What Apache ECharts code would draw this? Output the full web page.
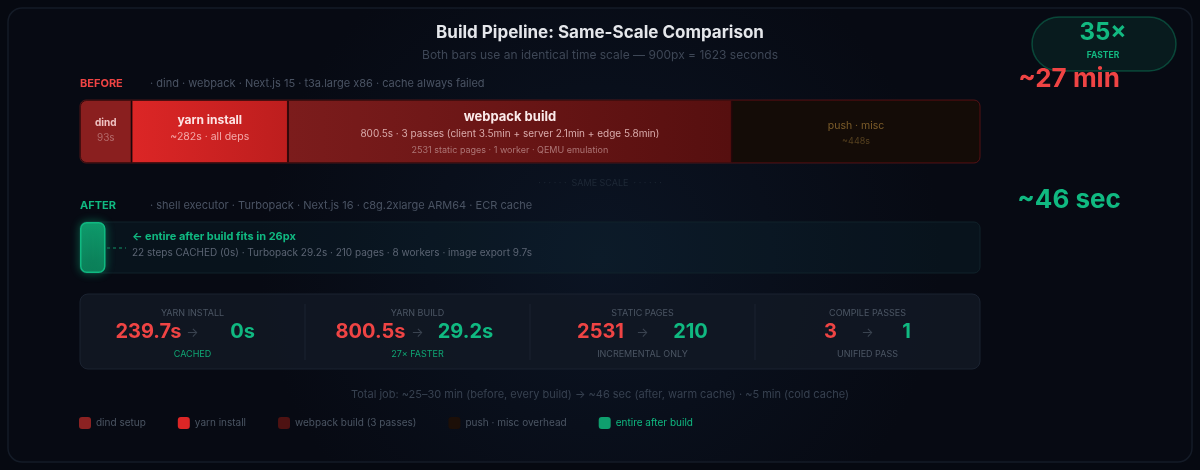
<!DOCTYPE html>
<html>
<head>
<meta charset="utf-8">
<script src="https://cdn.jsdelivr.net/npm/echarts@6/dist/echarts.min.js"></script>
<style>
  html, body { margin: 0; padding: 0; background: #060911; }
  #chart { width: 1200px; height: 470px; }
</style>
</head>
<body>
<div id="chart"></div>
<script>
// 时间刻度：900px = 1623 秒
const scaleSeconds = 1623
// before 各阶段
const beforeNames = ['dind setup', 'yarn install', 'webpack build (3 passes)', 'push · misc overhead']
const beforeSeconds = [93, 282, 800.5, 448]
const beforeTitles = ['dind', 'yarn install', 'webpack build', 'push · misc']
const beforeNotes = ['93s', '~282s · all deps', '800.5s · 3 passes (client 3.5min + server 2.1min + edge 5.8min)', '~448s']
const beforeDetails = ['', '', '2531 static pages · 1 worker · QEMU emulation', '']
// after
const afterName = 'entire after build'
const afterSeconds = 46
// 底部统计
const statLabels = ['YARN INSTALL', 'YARN BUILD', 'STATIC PAGES', 'COMPILE PASSES']
const statBefore = ['239.7s', '800.5s', '2531', '3']
const statAfter = ['0s', '29.2s', '210', '1']
const statNotes = ['CACHED', '27× FASTER', 'INCREMENTAL ONLY', 'UNIFIED PASS']
// 汇总
const speedup = '35×'
const beforeTotal = '~27 min'
const afterTotal = '~46 sec'

const FONT = "Inter, 'Noto Sans', 'DejaVu Sans', sans-serif"
const RED = '#ef4444'
const GREEN = '#10b981'

// 每段颜色和文字样式
const segColors = [
  '#8a1f1f',
  { type: 'linear', x: 0, y: 0, x2: 1, y2: 0, colorStops: [{ offset: 0, color: '#dc2626' }, { offset: 1, color: '#bd1e1e' }] },
  { type: 'linear', x: 0, y: 0, x2: 1, y2: 0, colorStops: [{ offset: 0, color: '#7c1c1c' }, { offset: 1, color: '#560f0f' }] },
  '#140c07'
]
const legendColors = ['#8b2222', '#dc2626', '#4e1212', '#1c0f08']
const segRadius = [[6, 0, 0, 6], 0, 0, [0, 6, 6, 0]]
const segOffset = [[0, -1], [0, -3], [0, 2], [0, 2]]
const segRich = [
  { t: { fontSize: 10, fontWeight: 'bold', color: '#efc2c2', lineHeight: 15 }, n: { fontSize: 10, color: '#b46a6a', lineHeight: 15 } },
  { t: { fontSize: 12, fontWeight: 'bold', color: '#fde4e4', lineHeight: 16 }, n: { fontSize: 10.5, color: '#f4aaaa', lineHeight: 16 } },
  { t: { fontSize: 13, fontWeight: 'bold', color: '#fbeaea', lineHeight: 17 }, n: { fontSize: 10, color: '#d9abab', lineHeight: 16 }, d: { fontSize: 9, color: '#ad7676', lineHeight: 16 } },
  { t: { fontSize: 10.5, color: '#7d5d2a', lineHeight: 16 }, n: { fontSize: 9, color: '#55401f', lineHeight: 16 } }
]

function txt(x, y, text, size, color, opts = {}) {
  return {
    type: 'text',
    z: 10,
    style: {
      x, y, text,
      fill: color,
      font: `${opts.bold ? 'bold ' : ''}${size}px ${FONT}`,
      textAlign: opts.align || 'left',
      align: opts.align || 'left',
      textVerticalAlign: 'middle',
      verticalAlign: 'middle'
    }
  }
}

function rect(x, y, w, h, r, fill, stroke, z, lineWidth) {
  return {
    type: 'rect',
    z: z,
    shape: { x, y, width: w, height: h, r },
    style: { fill: fill, stroke: stroke, lineWidth: lineWidth || 1 }
  }
}

const myChart = echarts.init(document.getElementById('chart'))

// before 堆叠条
const series = beforeNames.map((name, i) => ({
  name,
  type: 'bar',
  stack: 'before',
  xAxisIndex: 0,
  yAxisIndex: 0,
  barWidth: '100%',
  data: [beforeSeconds[i]],
  itemStyle: {
    color: segColors[i],
    borderRadius: segRadius[i],
    borderColor: 'rgba(40,6,6,0.7)',
    borderWidth: 1
  },
  label: {
    show: true,
    position: 'inside',
    offset: segOffset[i],
    formatter: () => {
      let s = `{t|${beforeTitles[i]}}\n{n|${beforeNotes[i]}}`
      if (beforeDetails[i]) s += `\n{d|${beforeDetails[i]}}`
      return s
    },
    fontFamily: FONT,
    rich: segRich[i]
  },
  silent: true
}))

// after 条
series.push({
  name: afterName,
  type: 'bar',
  xAxisIndex: 1,
  yAxisIndex: 1,
  barWidth: '100%',
  data: [afterSeconds],
  itemStyle: {
    color: { type: 'linear', x: 0, y: 0, x2: 0, y2: 1, colorStops: [{ offset: 0, color: '#0f9a6b' }, { offset: 1, color: '#0b7b56' }] },
    borderColor: GREEN,
    borderWidth: 1.5,
    borderRadius: 6,
    shadowBlur: 10,
    shadowColor: 'rgba(16,185,129,0.45)'
  },
  silent: true
})

const graphic = [
  // 背景面板
  {
    type: 'rect', z: -20,
    shape: { x: 8, y: 8, width: 1184, height: 454, r: 14 },
    style: {
      fill: { type: 'radial', x: 0.5, y: 0.55, r: 0.75, colorStops: [{ offset: 0, color: '#0b1423' }, { offset: 1, color: '#070a13' }] },
      stroke: '#141b27', lineWidth: 1.5
    }
  },
  // 标题
  txt(600, 33, 'Build Pipeline: Same-Scale Comparison', 17, '#e5e7eb', { bold: true, align: 'center' }),
  txt(600, 55, 'Both bars use an identical time scale — 900px = 1623 seconds', 12, '#3e4756', { align: 'center' }),
  // BEFORE
  txt(80, 84, 'BEFORE', 11, RED, { bold: true }),
  txt(150, 84, '· dind · webpack · Next.js 15 · t3a.large x86 · cache always failed', 11, '#4a5363'),
  rect(80, 100, 900, 63, 6, 'none', 'rgba(120,28,28,0.6)', 10),
  txt(600, 183, '· · · · · ·  SAME SCALE  · · · · · ·', 9, '#1f2937', { align: 'center' }),
  // AFTER
  txt(80, 206, 'AFTER', 11, GREEN, { bold: true }),
  txt(150, 206, '· shell executor · Turbopack · Next.js 16 · c8g.2xlarge ARM64 · ECR cache', 11, '#4a5363'),
  rect(80, 222, 900, 51, 6, 'rgba(16,60,70,0.18)', '#10222a', -10),
  {
    type: 'line', z: 10,
    shape: { x1: 107, y1: 248, x2: 126, y2: 248 },
    style: { stroke: '#0e6a4e', lineWidth: 1.5, lineDash: [3, 3] }
  },
  txt(132, 237, '← entire after build fits in 26px', 11, GREEN, { bold: true }),
  txt(132, 253, '22 steps CACHED (0s) · Turbopack 29.2s · 210 pages · 8 workers · image export 9.7s', 10, '#5b6473'),
  // 右侧汇总
  rect(1032, 17, 144, 54, 27, 'rgba(16,185,129,0.1)', 'rgba(16,185,129,0.32)', 5, 1.5),
  txt(1103, 33, speedup, 24, '#12b981', { bold: true, align: 'center' }),
  txt(1103, 55, 'FASTER', 8.5, '#12b981', { bold: true, align: 'center' }),
  txt(1069, 79, beforeTotal, 26, RED, { bold: true, align: 'center' }),
  txt(1069, 200, afterTotal, 26, GREEN, { bold: true, align: 'center' }),
  // 统计面板
  rect(80, 294, 900, 75, 8, 'rgba(18,25,37,0.85)', '#1b2331', -10),
  // 底部说明
  txt(600, 395, 'Total job: ~25–30 min (before, every build) → ~46 sec (after, warm cache) · ~5 min (cold cache)', 11, '#374150', { align: 'center' })
]

// 统计列
const redOffset = [-44, -47, -42, -37]
const greenOffset = [50, 48, 48, 39]
const noteColors = ['#0fa674', '#0fa674', '#4b5563', '#4b5563']
statLabels.forEach((label, i) => {
  const cx = 80 + 112.5 + 225 * i
  if (i > 0) {
    graphic.push({
      type: 'line', z: 5,
      shape: { x1: 80 + 225 * i, y1: 304, x2: 80 + 225 * i, y2: 360 },
      style: { stroke: '#1b2331', lineWidth: 1 }
    })
  }
  graphic.push(txt(cx, 313, label, 9, '#4b5563', { align: 'center' }))
  graphic.push(txt(cx + redOffset[i], 332, statBefore[i], 20, RED, { bold: true, align: 'center' }))
  graphic.push(txt(cx, 333, '→', 13, '#3a4350', { align: 'center' }))
  graphic.push(txt(cx + greenOffset[i], 332, statAfter[i], 20, GREEN, { bold: true, align: 'center' }))
  graphic.push(txt(cx, 354, statNotes[i], 9, noteColors[i], { align: 'center' }))
})

const legendData = beforeNames.map((name, i) => ({
  name,
  itemStyle: { color: legendColors[i], borderWidth: 0, shadowBlur: 0 }
}))
legendData.push({ name: afterName, itemStyle: { color: '#0f9f6e', borderWidth: 0, shadowBlur: 0 }, textStyle: { color: GREEN } })

const option = {
  backgroundColor: '#060911',
  animation: false,
  textStyle: { fontFamily: FONT },
  grid: [
    { left: 80, top: 100, width: 900, height: 63 },
    { left: 80, top: 222, width: 900, height: 51 }
  ],
  xAxis: [
    { gridIndex: 0, type: 'value', min: 0, max: scaleSeconds, show: false },
    { gridIndex: 1, type: 'value', min: 0, max: scaleSeconds, show: false }
  ],
  yAxis: [
    { gridIndex: 0, type: 'category', data: ['before'], show: false },
    { gridIndex: 1, type: 'category', data: ['after'], show: false }
  ],
  legend: {
    left: 74,
    top: 412,
    icon: 'roundRect',
    itemWidth: 12,
    itemHeight: 12,
    itemGap: 32,
    selectedMode: false,
    itemStyle: { borderWidth: 0, shadowBlur: 0 },
    textStyle: { color: '#4b5563', fontSize: 10, fontFamily: FONT },
    data: legendData
  },
  graphic: graphic,
  series: series
}

option && myChart.setOption(option)
</script>
</body>
</html>
